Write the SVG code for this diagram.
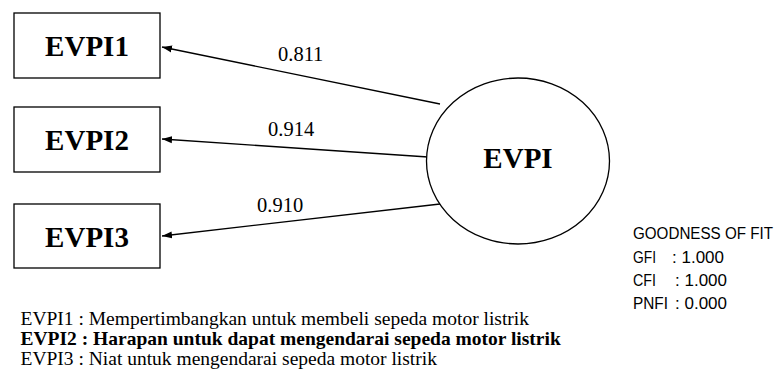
<svg xmlns="http://www.w3.org/2000/svg" width="776" height="376" viewBox="0 0 776 376">
<defs>
<marker id="ah" markerWidth="10" markerHeight="8" refX="10" refY="4" orient="auto" markerUnits="userSpaceOnUse">
<path d="M0,0.5 L10,4 L0,7.5 z" fill="#000"/>
</marker>
<style>
.box{fill:#fff;stroke:#000;stroke-width:1.3}
.node{font-family:"Liberation Serif","Times New Roman",serif;font-weight:bold;font-size:29px;fill:#000;text-anchor:middle}
.lbl{font-family:"Liberation Serif","Times New Roman",serif;font-size:20.5px;fill:#000}
.edge{stroke:#000;stroke-width:1.3;fill:none;marker-end:url(#ah)}
.fit{font-family:"Liberation Sans",Arial,sans-serif;font-size:16.8px;fill:#000}
.leg{font-family:"Liberation Serif","Times New Roman",serif;font-size:19.5px;fill:#000}
</style>
</defs>
<rect width="776" height="376" fill="#fff"/>
<g id="connectors">
<line class="edge" x1="440" y1="104" x2="162" y2="47"/>
<line class="edge" x1="428" y1="157" x2="162" y2="139"/>
<line class="edge" x1="440" y1="204" x2="162" y2="236"/>
<text class="lbl" x="278" y="61">0.811</text>
<text class="lbl" x="268" y="136">0.914</text>
<text class="lbl" x="257" y="212">0.910</text>
</g>
<g id="EVPI1">
<rect class="box" x="14" y="13" width="146" height="65"/>
<text class="node" x="87" y="56">EVPI1</text>
</g>
<g id="EVPI2">
<rect class="box" x="14" y="107" width="146" height="65"/>
<text class="node" x="87" y="150">EVPI2</text>
</g>
<g id="EVPI3">
<rect class="box" x="14" y="204" width="146" height="64"/>
<text class="node" x="87" y="247">EVPI3</text>
</g>
<g id="EVPI">
<ellipse cx="518" cy="161" rx="91.5" ry="83" fill="#fff" stroke="#000" stroke-width="1.3"/>
<text class="node" x="518" y="168">EVPI</text>
</g>
<g id="fit">
<text class="fit" x="633" y="239" textLength="140" lengthAdjust="spacingAndGlyphs">GOODNESS OF FIT</text>
<text class="fit" x="633" y="262.5" textLength="23" lengthAdjust="spacingAndGlyphs">GFI</text>
<text class="fit" x="672" y="262.5" textLength="52" lengthAdjust="spacingAndGlyphs">: 1.000</text>
<text class="fit" x="633" y="286" textLength="23" lengthAdjust="spacingAndGlyphs">CFI</text>
<text class="fit" x="675" y="286" textLength="52" lengthAdjust="spacingAndGlyphs">: 1.000</text>
<text class="fit" x="633" y="309" textLength="35" lengthAdjust="spacingAndGlyphs">PNFI</text>
<text class="fit" x="675" y="309" textLength="52" lengthAdjust="spacingAndGlyphs">: 0.000</text>
</g>
<g id="legend">
<text class="leg" x="20.5" y="325">EVPI1 : Mempertimbangkan untuk membeli sepeda motor listrik</text>
<text class="leg" x="20.5" y="345" font-weight="bold">EVPI2 : Harapan untuk dapat mengendarai sepeda motor listrik</text>
<text class="leg" x="20.5" y="365">EVPI3 : Niat untuk mengendarai sepeda motor listrik</text>
</g>
</svg>
